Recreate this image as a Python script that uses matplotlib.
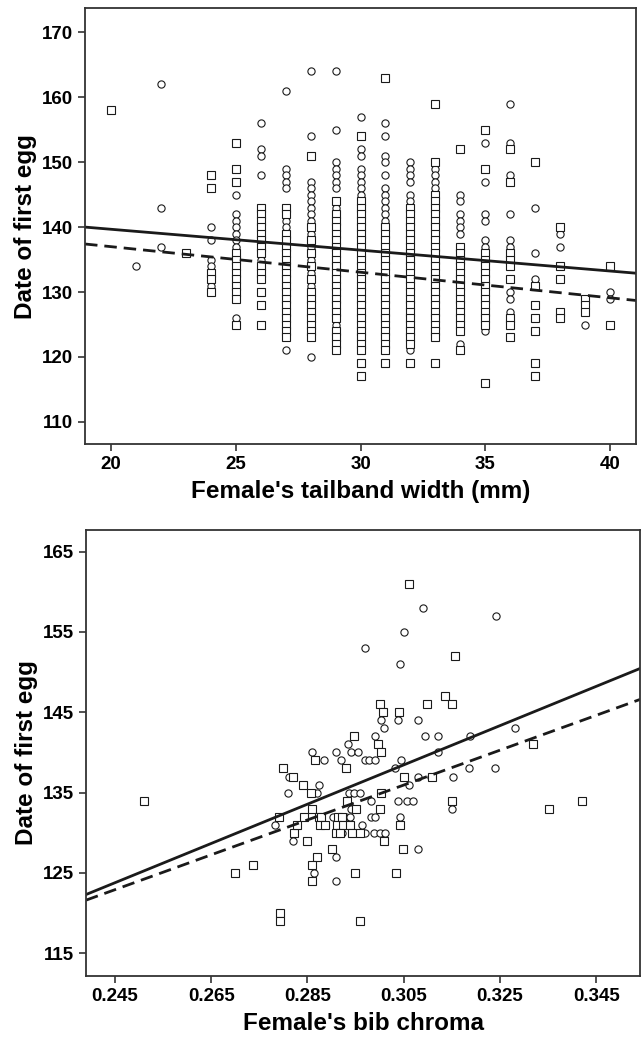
import numpy as np
import matplotlib
matplotlib.use("Agg")
import matplotlib.pyplot as plt
from matplotlib.ticker import FormatStrFormatter

plt.rcParams['font.family'] = ['Liberation Sans', 'DejaVu Sans']
plt.rcParams['font.weight'] = 'bold'

# ---- top panel: tailband width (mm) vs date of first egg ----
tail_widths = [20, 21, 22, 23, 24, 25, 26, 27, 28, 29, 30,
               31, 32, 33, 34, 35, 36, 37, 38, 39, 40]

# circles, one list of days per width
tail_circ_days = [
    [],
    [134],
    [162, 143, 137],
    [],
    [140, 138, 135, 134, 131],
    [145, 142, 141, 140, 139, 138, 137, 136, 135, 133, 131, 126],
    [156, 152, 151, 148, 141, 139, 137, 135, 134, 132],
    [161, 149, 148, 147, 146, 141, 140, 138, 136, 134, 131, 128, 121],
    [164, 154, 147, 146, 145, 144, 143, 142, 141, 140, 139, 138, 137, 136,
     135, 134, 133, 132, 131, 130, 129, 120],
    [164, 155, 150, 149, 148, 147, 146, 144, 143, 141, 139, 137, 135, 133,
     131, 129, 127, 126, 125],
    [157, 152, 151, 149, 148, 147, 146, 145, 143, 141, 139, 137, 135, 133, 131],
    [156, 154, 151, 150, 148, 146, 145, 144, 143, 142, 141, 140, 139, 138,
     137, 136, 135, 134, 133, 132, 131],
    [150, 149, 148, 147, 145, 144, 141, 139, 137, 135, 133, 131, 129, 127, 121],
    [149, 148, 147, 146, 145, 143, 141, 139, 137, 135, 133],
    [145, 144, 142, 141, 140, 139, 136, 134, 132, 130, 128, 122],
    [153, 147, 142, 141, 138, 137, 136, 135, 134, 131, 130, 124],
    [159, 153, 152, 148, 142, 138, 137, 136, 135, 130, 129, 127, 126],
    [143, 136, 132],
    [139, 137],
    [125],
    [130, 129],
]

# squares, one list of days per width
tail_sq_days = [
    [158],
    [],
    [],
    [136],
    [148, 146, 133, 132, 130],
    [153, 149, 147, 136, 135, 134, 133, 132, 131, 130, 129, 125],
    [143, 142, 141, 140, 139, 138, 137, 136, 134, 133, 132, 130, 128, 125],
    [143, 142, 139, 138, 137, 136, 135, 134, 133, 132, 131, 130, 129, 128,
     127, 126, 125, 124, 123],
    [151, 140, 138, 136, 134, 132, 130, 129, 128, 127, 126, 125, 124, 123],
    [144, 142, 141, 140, 139, 138, 137, 136, 135, 134, 133, 132, 131, 130,
     129, 128, 127, 126, 124, 123, 122, 121],
    [154, 144, 143, 142, 141, 140, 139, 138, 137, 136, 135, 134, 133, 132,
     131, 130, 129, 128, 127, 126, 125, 124, 123, 122, 121, 119, 117],
    [163, 140, 139, 138, 137, 136, 135, 134, 133, 132, 131, 130, 129, 128,
     127, 126, 125, 124, 123, 122, 121, 119],
    [143, 142, 141, 140, 139, 138, 137, 136, 135, 134, 133, 132, 131, 130,
     129, 128, 127, 126, 125, 124, 123, 122, 119],
    [159, 150, 145, 144, 143, 142, 141, 140, 139, 138, 137, 136, 135, 134,
     133, 132, 131, 130, 129, 128, 127, 126, 125, 124, 123, 119],
    [152, 137, 136, 135, 134, 133, 132, 131, 130, 129, 128, 127, 126, 125,
     124, 121],
    [155, 149, 136, 135, 134, 133, 132, 131, 130, 129, 128, 127, 126, 125, 116],
    [152, 147, 136, 135, 134, 132, 126, 125, 123],
    [150, 131, 128, 126, 124, 119, 117],
    [140, 134, 132, 127, 126],
    [129, 128, 127],
    [134, 125],
]

# fitted lines (intercept, slope)
tail_fit_solid = (146.1, -0.3216)
tail_fit_dashed = (144.87, -0.394)

# ---- bottom panel: bib chroma vs date of first egg ----
bib_circ_x = [0.3090, 0.3051, 0.2970, 0.3043, 0.3003, 0.3038, 0.3080, 0.3010,
              0.2990, 0.3095, 0.2934, 0.2860, 0.2910, 0.2941, 0.2954, 0.2885,
              0.2920, 0.2970, 0.2977, 0.2991, 0.3045, 0.3031, 0.2811, 0.3080,
              0.3106, 0.2875, 0.3060, 0.2809, 0.2870, 0.2936, 0.2946, 0.2959,
              0.2981, 0.3038, 0.3056, 0.3070, 0.2941, 0.2904, 0.2931, 0.2939,
              0.2981, 0.2991, 0.3042, 0.2783, 0.2964, 0.2922, 0.2970, 0.2989,
              0.3000, 0.3012, 0.2821, 0.3079, 0.2910, 0.2863, 0.2910, 0.3241,
              0.3121, 0.3187, 0.3281, 0.3121, 0.3152, 0.3185, 0.3239, 0.3150]
bib_circ_y = [158, 155, 153, 151, 144, 144, 144, 143,
              142, 142, 141, 140, 140, 140, 140, 139,
              139, 139, 139, 139, 139, 138, 137, 137,
              137, 136, 136, 135, 135, 135, 135, 135,
              134, 134, 134, 134, 133, 132, 132, 132,
              132, 132, 132, 131, 131, 130, 130, 130,
              130, 130, 129, 128, 127, 125, 124, 157,
              142, 142, 143, 140, 137, 138, 138, 133]

bib_sq_x = [0.2510, 0.2700, 0.2737, 0.2794, 0.2794, 0.2800, 0.2821, 0.2790,
            0.2823, 0.3060, 0.3000, 0.3099, 0.3007, 0.3040, 0.2946, 0.2997,
            0.3002, 0.2866, 0.2930, 0.2841, 0.3050, 0.2858, 0.3002, 0.2932,
            0.2860, 0.2950, 0.3000, 0.2842, 0.2873, 0.2878, 0.2913, 0.2922,
            0.2828, 0.2877, 0.2887, 0.2911, 0.2924, 0.2938, 0.3043, 0.2910,
            0.2918, 0.2943, 0.2959, 0.2849, 0.3010, 0.2900, 0.3049, 0.2870,
            0.2860, 0.2948, 0.3034, 0.2860, 0.2960, 0.3150, 0.3351, 0.3421,
            0.3157, 0.3135, 0.3151, 0.3318, 0.3109]
bib_sq_y = [134, 125, 126, 120, 119, 138, 137, 132,
            130, 161, 146, 146, 145, 145, 142, 141,
            140, 139, 138, 136, 137, 135, 135, 134,
            133, 133, 133, 132, 132, 132, 132, 132,
            131, 131, 131, 131, 131, 131, 131, 130,
            130, 130, 130, 129, 129, 128, 128, 127,
            126, 125, 125, 124, 119, 134, 133, 134,
            152, 147, 146, 141, 137]

bib_fit_solid = (122.3, 244.6)    # value at x0, slope
bib_fit_dashed = (121.6, 217.2)
bib_x0 = 0.239

ink = '#1a1a1a'
mk = dict(linestyle='none', markersize=5.2, markerfacecolor='white',
          markeredgecolor=ink, markeredgewidth=0.8)

fig = plt.figure(figsize=(6.42, 10.39), dpi=100)
ax1 = fig.add_axes([0.1324, 0.5727, 0.8583, 0.4193])
ax2 = fig.add_axes([0.1340, 0.0606, 0.8630, 0.4293])

# top scatter
for w, days in zip(tail_widths, tail_circ_days):
    ax1.plot([w] * len(days), days, marker='o', **mk)
for w, days in zip(tail_widths, tail_sq_days):
    ax1.plot([w] * len(days), days, marker='s', **mk)

xs = np.array([18.96, 41.04])
ax1.plot(xs, tail_fit_solid[0] + tail_fit_solid[1] * xs, color=ink, lw=2.0)
ax1.plot(xs, tail_fit_dashed[0] + tail_fit_dashed[1] * xs, color=ink, lw=2.0,
         dashes=(4.5, 2.5))
ax1.set_xlim(18.96, 41.04)
ax1.set_ylim(106.6, 173.7)
ax1.set_xticks([20, 25, 30, 35, 40])
ax1.set_yticks([110, 120, 130, 140, 150, 160, 170])
ax1.set_xlabel("Female's tailband width (mm)", fontsize=17.5, fontweight='bold',
               labelpad=5)
ax1.set_ylabel("Date of first egg", fontsize=17.5, fontweight='bold', labelpad=4)

# bottom scatter
ax2.plot(bib_circ_x, bib_circ_y, marker='o', **mk)
ax2.plot(bib_sq_x, bib_sq_y, marker='s', **mk)
xb = np.array([0.239, 0.3541])
ax2.plot(xb, bib_fit_solid[0] + bib_fit_solid[1] * (xb - bib_x0), color=ink, lw=2.0)
ax2.plot(xb, bib_fit_dashed[0] + bib_fit_dashed[1] * (xb - bib_x0), color=ink,
         lw=2.0, dashes=(4.5, 2.5))
ax2.set_xlim(0.239, 0.3541)
ax2.set_ylim(112.15, 167.7)
ax2.set_xticks([0.245, 0.265, 0.285, 0.305, 0.325, 0.345])
ax2.set_yticks([115, 125, 135, 145, 155, 165])
ax2.xaxis.set_major_formatter(FormatStrFormatter('%.3f'))
ax2.set_xlabel("Female's bib chroma", fontsize=17.5, fontweight='bold', labelpad=5)
ax2.set_ylabel("Date of first egg", fontsize=17.5, fontweight='bold', labelpad=4)

for ax in (ax1, ax2):
    for s in ax.spines.values():
        s.set_color('#333333')
        s.set_linewidth(1.3)
    ax.tick_params(direction='out', length=5, width=1.2, color='#333333',
                   labelsize=13.5, top=False, right=False)
    for lab in ax.get_xticklabels() + ax.get_yticklabels():
        lab.set_fontweight('bold')

fig.savefig("out.png", dpi=100)
